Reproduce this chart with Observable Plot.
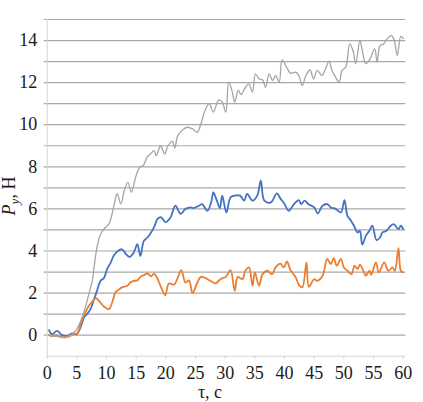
<!DOCTYPE html>
<html><head><meta charset="utf-8">
<script src="https://cdn.jsdelivr.net/npm/d3@7"></script>
<script src="https://cdn.jsdelivr.net/npm/@observablehq/plot@0.6"></script>
<style>body{margin:0;background:#fff}#chart svg{display:block}#chart svg text{font-family:"Liberation Serif","DejaVu Serif",serif}</style>
</head><body><div id="chart"></div>
<script>
const xTicks = [0,5,10,15,20,25,30,35,40,45,50,55,60];
const yTicks = [0,2,4,6,8,10,12,14];
const gridValues = [0,1,2,3,4,5,6,7,8,9,10,11,12,13,14,15];

const blueT = [0.3,0.8,1.7,2.5,3.4,4.2,5.0,5.6,6.2,6.7,7.3,7.8,8.4,9.0,9.55,10.1,10.7,11.2,11.9,12.6,13.2,13.9,14.6,15.2,15.7,16.3,16.9,17.4,18.0,18.6,19.2,19.95,20.8,21.6,22.5,23.3,24.2,24.7,25.6,26.1,27.0,27.7,28.0,28.6,29.1,29.5,30.2,30.9,31.6,32.5,33.2,33.7,34.6,35.4,36.0,36.6,37.7,38.7,39.3,40.0,40.7,41.6,42.4,42.8,43.4,44.0,45.0,45.6,46.4,47.2,47.8,48.6,49.5,50.1,50.6,51.2,51.7,52.3,52.7,53.1,53.7,54.3,54.8,55.5,56.1,56.5,57.2,57.9,58.4,59.2,59.6,60.0];
const blueV = [0.24,0.05,0.2,0.0,-0.03,0.08,0.05,0.36,0.84,1.0,1.24,1.63,2.11,2.59,2.71,3.14,3.45,3.77,4.0,4.08,3.88,3.72,3.93,4.33,3.77,4.49,4.64,4.83,5.12,5.52,5.6,5.36,5.6,6.15,5.76,6.0,6.07,6.04,6.15,6.23,5.91,6.39,6.78,6.39,6.04,6.63,5.83,6.55,6.63,6.63,6.39,6.71,6.39,6.63,7.34,6.39,6.31,6.74,6.5,6.23,5.91,6.23,6.42,6.23,6.39,6.23,6.07,5.78,6.15,6.23,6.07,6.0,5.83,6.42,5.67,5.44,5.2,4.88,4.96,4.3,4.72,4.96,5.2,4.52,4.64,4.88,4.96,5.2,5.28,5.04,5.2,5.04];

const orangeT = [0.3,0.8,1.5,2.2,3.0,3.8,4.5,5.1,5.6,6.2,7.0,7.6,8.2,8.8,9.6,10.4,11.0,11.5,12.0,12.6,13.5,14.0,14.6,15.2,15.7,16.3,16.9,17.5,18.0,18.6,19.2,19.9,20.5,21.4,21.9,22.6,23.3,23.9,24.5,25.3,25.9,26.7,27.5,28.4,29.2,30.1,30.9,31.6,32.1,32.9,33.4,34.0,34.6,35.0,35.7,36.3,37.1,37.9,38.5,39.3,39.9,40.4,41.0,41.9,42.5,43.0,43.7,44.1,45.0,45.5,46.4,47.2,47.8,48.3,48.8,49.5,50.0,50.6,51.3,51.8,52.3,52.7,53.4,53.7,54.3,54.6,55.4,55.9,56.8,57.5,58.2,58.6,59.2,59.6,60.0];
const orangeV = [0.0,-0.05,0.0,-0.08,-0.1,-0.05,0.05,0.1,0.5,0.95,1.39,1.6,1.76,1.6,1.35,1.24,1.6,2.03,2.15,2.27,2.35,2.5,2.58,2.6,2.77,2.85,2.93,2.8,2.92,2.68,2.27,1.9,2.45,2.4,2.66,3.09,2.5,2.6,2.0,2.5,2.77,2.71,2.58,2.46,2.66,2.77,3.09,2.1,2.77,2.66,3.06,3.22,2.35,2.98,2.35,2.9,3.06,2.9,3.22,3.4,3.22,3.5,3.1,2.74,2.35,2.27,3.46,2.3,2.66,2.58,2.82,3.62,3.38,3.66,3.3,3.62,3.22,3.06,2.9,3.3,3.14,3.35,2.98,2.82,3.06,2.87,3.46,2.98,3.46,3.06,3.22,3.06,4.14,3.06,2.98];

const greyT = [0.3,1.0,1.8,2.5,3.0,3.6,4.2,4.8,5.4,5.96,6.5,7.0,7.6,7.97,8.4,8.9,9.55,10.4,10.8,11.2,11.8,12.4,13.0,13.6,14.2,14.9,15.6,16.2,16.8,17.4,18.0,18.4,19.1,19.8,20.35,21.1,21.5,22.0,22.8,23.6,24.5,25.3,25.9,26.5,27.3,28.0,28.9,29.5,30.1,30.6,31.2,31.6,32.2,32.7,33.4,34.0,34.6,35.1,35.7,36.3,36.8,37.4,38.0,38.5,39.1,39.6,40.5,41.0,41.9,42.4,43.0,43.6,44.3,44.9,45.5,46.3,46.9,47.5,48.0,48.6,49.2,49.7,50.3,51.0,51.6,52.0,52.7,53.1,53.7,54.4,55.2,55.6,56.1,56.7,57.3,58.0,58.5,59.0,59.6,60.0];
const greyV = [0.0,-0.05,-0.07,-0.1,-0.11,-0.05,0.05,0.2,0.52,0.91,1.39,1.94,2.59,3.38,4.17,4.73,5.04,5.28,5.6,6.1,6.72,6.24,6.87,7.26,6.79,7.5,7.98,8.06,8.45,8.61,8.77,8.53,9.0,8.61,9.0,9.21,8.9,9.48,9.75,9.88,9.8,9.64,10.04,10.6,11.0,10.6,11.18,11.07,10.6,12.02,11.55,11.07,11.63,11.43,11.78,11.94,11.55,12.42,12.18,12.13,11.78,12.42,12.1,12.34,12.02,13.08,12.65,12.45,12.5,12.34,11.86,12.34,12.6,12.18,12.58,12.34,12.65,13.02,12.58,12.26,12.02,12.58,12.73,13.84,13.45,12.9,14.0,13.53,12.9,13.13,13.6,12.97,13.76,13.84,14.08,14.24,14.0,13.29,14.2,14.1];

const toRows = (T, V) => T.map((t, i) => ({t, v: V[i]}));
const blue = toRows(blueT, blueV);
const orange = toRows(orangeT, orangeV);
const grey = toRows(greyT, greyV);

const font = "Liberation Serif, DejaVu Serif, serif";
const chart = Plot.plot({
  width: 423, height: 402,
  marginLeft: 46.7, marginRight: 20.3, marginTop: 19, marginBottom: 46.3,
  style: {fontFamily: font, fontSize: "18px", background: "#fff", color: "#1a1a1a", overflow: "visible"},
  x: {domain: [0, 60]},
  y: {domain: [-1, 15]},
  marks: [
    Plot.ruleY(gridValues, {stroke: "#a8a8a8", strokeWidth: 1.2, insetLeft: -3, insetRight: -2.6}),
    Plot.ruleX([0], {stroke: "#d6d6d6", strokeWidth: 1}),
    Plot.ruleY([-1], {stroke: "#d6d6d6", strokeWidth: 1, insetRight: -2.6}),
    Plot.axisY({ticks: yTicks, tickSize: 0, tickPadding: 10, label: null, fontSize: 18, fontFamily: font, fill: "#1a1a1a"}),
    Plot.axisX({ticks: xTicks, tickSize: 3, tickPadding: 7, label: null, fontSize: 18, fontFamily: font, stroke: "#cfcfcf", fill: "#1a1a1a"}),
    Plot.line(blue, {x: "t", y: "v", stroke: "#4472c4", strokeWidth: 1.8, curve: "catmull-rom"}),
    Plot.line(orange, {x: "t", y: "v", stroke: "#ed7d31", strokeWidth: 1.8, curve: "catmull-rom"}),
    Plot.line(grey, {x: "t", y: "v", stroke: "#a5a5a5", strokeWidth: 1.3, curve: "catmull-rom"})
  ]
});

const svg = d3.select(chart);
// x axis title
svg.append("text")
  .attr("x", 210).attr("y", 398)
  .attr("text-anchor", "middle")
  .attr("font-size", 18).attr("fill", "#1a1a1a")
  .text("τ, с");
// y axis title
const yl = svg.append("text")
  .attr("transform", "translate(15,196) rotate(-90)")
  .attr("text-anchor", "middle")
  .attr("font-size", 18).attr("fill", "#1a1a1a");
yl.append("tspan").attr("font-style", "italic").text("P");
yl.append("tspan").attr("font-style", "italic").attr("font-size", 13).attr("dy", "0.3em").text("y");
yl.append("tspan").attr("dy", "-0.23em").text(", Н");

document.getElementById("chart").appendChild(chart);
</script>
</body></html>
